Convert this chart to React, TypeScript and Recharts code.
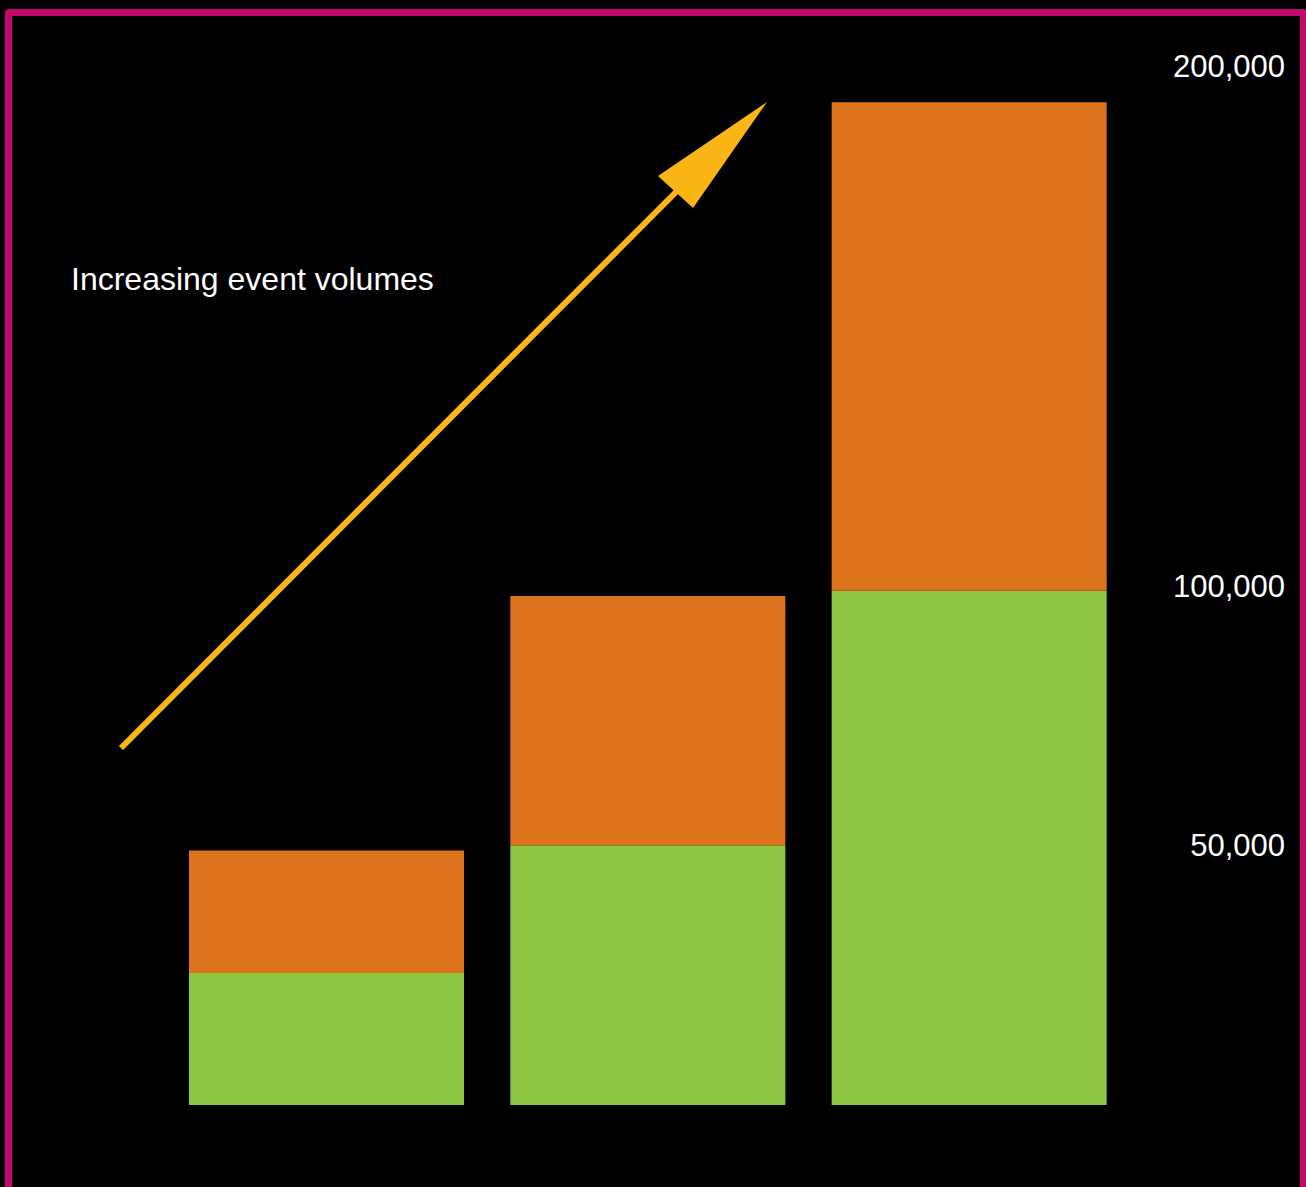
import { BarChart, Bar, XAxis, YAxis } from 'recharts';

// Values
const periods = ['Period 1', 'Period 2', 'Period 3'];
const baseVolume = [25400, 50000, 99000];
const extraVolume = [23600, 48000, 94000];
const axisTicks = [50000, 100000, 200000];

const GREEN = '#8dc641';
const ORANGE = '#dd731d';
const ARROW = '#fbb516';
const BORDER = '#c2076d';
const FONT = '"Liberation Sans", Arial, sans-serif';

const data = periods.map((name, i) => ({
  name,
  base: baseVolume[i],
  extra: extraVolume[i],
}));

function RightTick(props: any) {
  const { x, y, payload } = props;
  return (
    <text x={x + 147} y={y} dy="0.355em" textAnchor="end" fill="#fff" fontSize={31} fontFamily={FONT}>
      {Number(payload.value).toLocaleString('en-US')}
    </text>
  );
}

export default function App() {
  return (
    <div style={{
      position: 'absolute', left: 0, top: 0, width: 1306, height: 1187,
      background: '#000', overflow: 'hidden',
    }}>
      <BarChart width={1306} height={1187} data={data}
        margin={{ top: 66, right: 0, bottom: 82, left: 166 }}>
        <XAxis dataKey="name" hide />
        <YAxis orientation="right" width={176} domain={[0, 200000]} ticks={axisTicks}
          axisLine={false} tickLine={false} tick={<RightTick />} interval={0} />
        <Bar dataKey="base" stackId="v" fill={GREEN} barSize={275} isAnimationActive={false} />
        <Bar dataKey="extra" stackId="v" fill={ORANGE} barSize={275} isAnimationActive={false} />
      </BarChart>

      {/* annotation: arrow + caption */}
      <svg width={1306} height={1187} style={{ position: 'absolute', left: 0, top: 0, pointerEvents: 'none' }}>
        <line x1={121} y1={748} x2={680} y2={188} stroke={ARROW} strokeWidth={6} />
        <polygon points="767,102 658,176 693,208" fill={ARROW} />
        <text x={71} y={290} fill="#fff" fontSize={32} fontFamily={FONT}>Increasing event volumes</text>
      </svg>

      {/* frame */}
      <div style={{
        position: 'absolute', left: 5, top: 9, width: 1302, height: 1300,
        boxSizing: 'border-box', border: `7px solid ${BORDER}`, borderRadius: 4,
      }} />
    </div>
  );
}
